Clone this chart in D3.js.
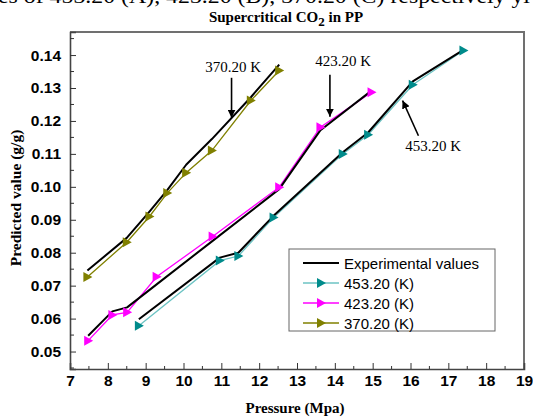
<!DOCTYPE html>
<html><head><meta charset="utf-8">
<script src="https://cdn.jsdelivr.net/npm/d3@7"></script>
<style>body{margin:0;background:#fff}svg{display:block}</style>
</head><body><svg id="chart" width="533" height="419"></svg>
<script>
// Pressure (MPa) and predicted / experimental uptake (g/g) at three temperatures
const pressure453 = [8.82, 10.96, 11.45, 12.38, 14.21, 14.88, 16.06, 17.40];
const predicted453 = [0.0578, 0.0776, 0.0790, 0.0907, 0.1100, 0.1158, 0.1310, 0.1414];
const experimental453 = [0.0598, 0.0785, 0.0800, 0.0912, 0.1105, 0.1165, 0.1320, 0.1416];

const pressure423 = [7.48, 8.12, 8.51, 9.29, 10.77, 12.53, 13.62, 14.97];
const predicted423 = [0.0533, 0.0611, 0.0619, 0.0727, 0.0849, 0.0999, 0.1181, 0.1287];
const experimental423 = [0.0548, 0.0622, 0.0634, 0.0704, 0.0836, 0.0993, 0.1172, 0.1292];

const pressure370 = [7.46, 8.50, 9.10, 9.57, 10.07, 10.75, 11.78, 12.53];
const predicted370 = [0.0726, 0.0832, 0.0910, 0.0981, 0.1043, 0.1110, 0.1262, 0.1353];
const experimental370 = [0.0746, 0.0845, 0.0925, 0.0990, 0.1067, 0.1145, 0.1272, 0.1371];

const seriesNames = ["453.20 (K)", "423.20 (K)", "370.20 (K)"];
const xTicks = [7, 8, 9, 10, 11, 12, 13, 14, 15, 16, 17, 18, 19];
const yTicks = [0.05, 0.06, 0.07, 0.08, 0.09, 0.10, 0.11, 0.12, 0.13, 0.14];

// Temperature callouts: label position and arrow tail/tip in data units
const calloutText = ["370.20 K", "423.20 K", "453.20 K"];
const calloutLabel = [[11.31, 0.1350], [14.22, 0.1368], [16.60, 0.1110]];
const calloutTail = [[11.27, 0.1331], [13.87, 0.1340], [16.21, 0.1155]];
const calloutTip = [[11.27, 0.1210], [13.87, 0.1213], [15.79, 0.1262]];

const svg = d3.select("#chart");
const x = d3.scaleLinear().domain([7, 19]).range([70, 524]);
const y = d3.scaleLinear().domain([0.0447, 0.147]).range([369, 32]);

const series = [
  {name: seriesNames[0], p: pressure453, pred: predicted453, exp: experimental453, line: "#6cc3c3", mark: "#008b8b"},
  {name: seriesNames[1], p: pressure423, pred: predicted423, exp: experimental423, line: "#ff00ff", mark: "#ff00ff"},
  {name: seriesNames[2], p: pressure370, pred: predicted370, exp: experimental370, line: "#808000", mark: "#808000"}
];

// Running text of the page, cut by the top edge
svg.append("text").attr("x", -2).attr("y", 3)
  .attr("font-family", "Liberation Serif").attr("font-size", 21).attr("textLength", 532)
  .attr("lengthAdjust", "spacingAndGlyphs")
  .text("es of 453.20 (A), 423.20 (B), 370.20 (C) respectively yi");

// Title
const title = svg.append("text").attr("x", 286).attr("y", 22).attr("text-anchor", "middle")
  .attr("font-family", "Liberation Serif").attr("font-weight", "bold").attr("font-size", 15);
title.append("tspan").text("Supercritical CO");
title.append("tspan").attr("dy", 4).attr("font-size", 13).text("2");
title.append("tspan").attr("dy", -4).text(" in PP");

// Frame (top and right)
svg.append("path")
  .attr("d", `M${x(7)},${y.range()[1]}H${x(19)}V${y.range()[0]}`)
  .attr("fill", "none").attr("stroke", "#707070").attr("stroke-width", 2);

// Bottom axis with inward ticks
const xMinor = d3.range(7.5, 19, 1);
const gx = svg.append("g").attr("transform", `translate(0,${y.range()[0]})`);
gx.call(d3.axisBottom(x).tickValues(xTicks).tickSize(-6).tickPadding(6).tickFormat(d3.format("d")));
gx.selectAll(".tick").filter(d => d === 7 || d === 19).select("line").remove();
gx.selectAll(".tickm").data(xMinor).join("line").attr("class", "tickm")
  .attr("x1", d => x(d)).attr("x2", d => x(d)).attr("y1", 0).attr("y2", -3).attr("stroke", "#333");

// Left axis with inward ticks
const yMinor = [0.045, 0.055, 0.065, 0.075, 0.085, 0.095, 0.105, 0.115, 0.125, 0.135, 0.145];
const gy = svg.append("g").attr("transform", `translate(${x(7)},0)`);
gy.call(d3.axisLeft(y).tickValues(yTicks).tickSize(-6).tickPadding(9).tickFormat(d3.format(".2f")));
gy.selectAll(".tickm").data(yMinor).join("line").attr("class", "tickm")
  .attr("x1", 0).attr("x2", 4).attr("y1", d => y(d)).attr("y2", d => y(d)).attr("stroke", "#333");

[gx, gy].forEach(g => {
  g.select(".domain").attr("stroke", "#444").attr("stroke-width", 1.6);
  g.selectAll(".tick line").attr("stroke", "#333");
  g.selectAll("text").attr("font-family", "Liberation Sans").attr("font-weight", "bold")
    .attr("font-size", 15.5).attr("fill", "#000");
});

// Axis titles
svg.append("text").attr("x", 295).attr("y", 413).attr("text-anchor", "middle")
  .attr("font-family", "Liberation Serif").attr("font-weight", "bold").attr("font-size", 15)
  .text("Pressure (Mpa)");
svg.append("text").attr("transform", "translate(21,198) rotate(-90)").attr("text-anchor", "middle")
  .attr("font-family", "Liberation Serif").attr("font-weight", "bold").attr("font-size", 15.5)
  .text("Predicted value (g/g)");

const line = d3.line().x(d => x(d[0])).y(d => y(d[1]));
const tri = "M-4,-5L5,0L-4,5Z";

// Predicted curves
series.forEach(s => {
  svg.append("path").datum(d3.zip(s.p, s.pred)).attr("d", line)
    .attr("fill", "none").attr("stroke", s.line).attr("stroke-width", 1.3);
});
// Experimental curves
series.forEach(s => {
  svg.append("path").datum(d3.zip(s.p, s.exp)).attr("d", line)
    .attr("fill", "none").attr("stroke", "#000").attr("stroke-width", 2).attr("stroke-linejoin", "round");
});
// Markers
series.forEach(s => {
  svg.append("g").selectAll("path").data(d3.zip(s.p, s.pred)).join("path")
    .attr("d", tri).attr("transform", d => `translate(${x(d[0])},${y(d[1])})`)
    .attr("fill", s.mark);
});

// Callouts
const arrowHead = svg.append("defs").append("marker").attr("id", "ah")
  .attr("viewBox", "0 0 10 10").attr("refX", 10).attr("refY", 5)
  .attr("markerWidth", 8).attr("markerHeight", 8).attr("markerUnits", "userSpaceOnUse")
  .attr("orient", "auto");
arrowHead.append("path").attr("d", "M0,0L10,5L0,10Z").attr("fill", "#000");
calloutText.forEach((t, i) => {
  svg.append("text").attr("x", x(calloutLabel[i][0])).attr("y", y(calloutLabel[i][1]))
    .attr("text-anchor", "middle").attr("font-family", "Liberation Serif").attr("font-size", 15).text(t);
  svg.append("line")
    .attr("x1", x(calloutTail[i][0])).attr("y1", y(calloutTail[i][1]))
    .attr("x2", x(calloutTip[i][0])).attr("y2", y(calloutTip[i][1]))
    .attr("stroke", "#000").attr("stroke-width", 1.6).attr("marker-end", "url(#ah)");
});

// Legend
const lg = svg.append("g").attr("transform", "translate(289,249)");
lg.append("rect").attr("width", 206).attr("height", 82).attr("fill", "#fff")
  .attr("stroke", "#666").attr("stroke-width", 1);
const legendRows = [{name: "Experimental values", line: "#000", mark: null, w: 2}]
  .concat(series.map(s => ({name: s.name, line: s.line, mark: s.mark, w: 1.3})));
legendRows.forEach((r, i) => {
  const cy = 14 + i * 20;
  lg.append("line").attr("x1", 14).attr("x2", 50).attr("y1", cy).attr("y2", cy)
    .attr("stroke", r.line).attr("stroke-width", r.w);
  if (r.mark) lg.append("path").attr("d", tri).attr("transform", `translate(32,${cy})`).attr("fill", r.mark);
  lg.append("text").attr("x", 55).attr("y", cy + 5.5).attr("font-family", "Liberation Sans")
    .attr("font-size", 15).text(r.name);
});
</script></body></html>
